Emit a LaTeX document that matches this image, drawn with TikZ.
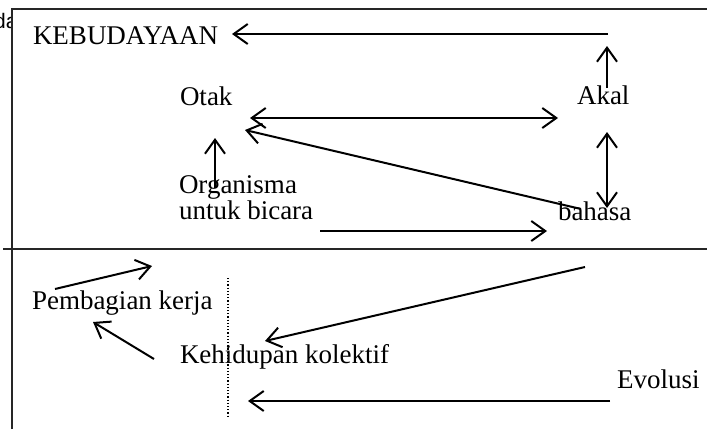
\documentclass[tikz,border=0pt]{standalone}
\usepackage{fontspec}
\setmainfont{Liberation Serif}
\newfontfamily\labelsans{Liberation Sans}
\usetikzlibrary{arrows.meta}
\tikzset{
  lbl/.style={anchor=base west, inner sep=0pt, outer sep=0pt,
    font=\fontsize{27}{31}\selectfont},
  frameline/.style={line width=1.6pt, draw=black!85},
  arr/.style={line width=2pt, -{Straight Barb[length=14pt,width=20pt,line width=2pt]}},
  dbl/.style={line width=2pt, {Straight Barb[length=14pt,width=20pt,line width=2pt]}-{Straight Barb[length=14pt,width=20pt,line width=2pt]}},
}
\begin{document}
\begin{tikzpicture}[x=1pt,y=-1pt]
\useasboundingbox (0,0) rectangle (707,429);
\fill[white] (0,0) rectangle (707,429);

% clipped heading fragment at the top left
\begin{scope}
  \clip (0,0) rectangle (11,32);
  \node[anchor=base west, inner sep=0pt, font=\labelsans\fontsize{21}{24}\selectfont] (frag) at (-6,28) {da};
\end{scope}

% frame lines
\coordinate (fTL) at (12,9);
\coordinate (fTR) at (707,9);
\coordinate (fBL) at (12,429);
\coordinate (mL) at (3,249);
\coordinate (mR) at (707,249);
\draw[frameline] (fBL) -- (fTL) -- (fTR);
\draw[frameline] (mL) -- (mR);

% labels
\node[lbl] (keb) at (33,44) {KEBUDAYAAN};
\node[lbl] (otak) at (180,105) {Otak};
\node[lbl] (akal) at (577,104) {Akal};
\node[lbl] (org) at (179,193) {Organisma};
\node[lbl] (ubic) at (179,219) {untuk bicara};
\node[lbl] (bhs) at (558,220) {bahasa};
\node[lbl] (pemb) at (32,309) {Pembagian kerja};
\node[lbl] (kehid) at (180,363) {Kehidupan kolektif};
\node[lbl] (evo) at (617,388) {Evolusi};

% connector end points
\coordinate (a1s) at (608,34);  \coordinate (a1e) at (232,34);
\coordinate (a2s) at (607,88);  \coordinate (a2e) at (607,46);
\coordinate (a3s) at (250,118); \coordinate (a3e) at (558,118);
\coordinate (a4s) at (581,209); \coordinate (a4e) at (245,130);
\coordinate (a5s) at (215,188); \coordinate (a5e) at (215,138);
\coordinate (a6s) at (607,132); \coordinate (a6e) at (607,208);
\coordinate (a7s) at (320,231); \coordinate (a7e) at (547,231);
\coordinate (a8s) at (55,289);  \coordinate (a8e) at (152,266);
\coordinate (a9s) at (585,267); \coordinate (a9e) at (265,341);
\coordinate (a10s) at (154,359);\coordinate (a10e) at (93,322);
\coordinate (a11s) at (610,401);\coordinate (a11e) at (248,401);
\coordinate (dotT) at (228,278);\coordinate (dotB) at (228,417);

% connectors
\draw[arr] (a1s) -- (a1e);
\draw[arr] (a2s) -- (a2e);
\draw[dbl] (a3s) -- (a3e);
\draw[arr] (a4s) -- (a4e);
\draw[arr] (a5s) -- (a5e);
\draw[dbl] (a6s) -- (a6e);
\draw[arr] (a7s) -- (a7e);
\draw[arr] (a8s) -- (a8e);
\draw[arr] (a9s) -- (a9e);
\draw[arr] (a10s) -- (a10e);
\draw[arr] (a11s) -- (a11e);
\draw[line width=1.2pt, dotted] (dotT) -- (dotB);
\end{tikzpicture}
\end{document}
